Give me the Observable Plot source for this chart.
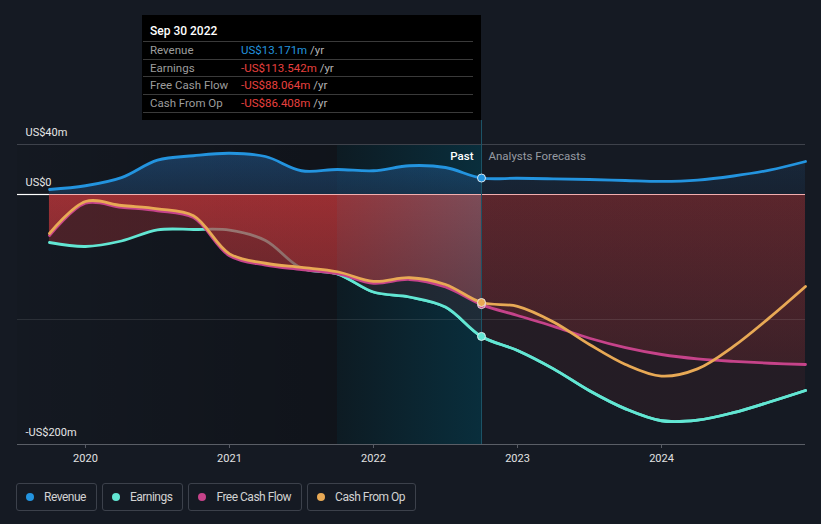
<!DOCTYPE html>
<html><head><meta charset="utf-8">
<script src="https://cdn.jsdelivr.net/npm/d3@7"></script>
<script src="https://cdn.jsdelivr.net/npm/@observablehq/plot@0.6"></script>
<style>
html,body{margin:0;padding:0;background:#151a23;}
body{width:821px;height:524px;position:relative;overflow:hidden;font-family:Roboto,"Open Sans",sans-serif;}
#chart{position:absolute;left:0;top:0;}
#tip{position:absolute;left:142px;top:15px;width:339px;height:105px;background:#000;}
#tip .hd{position:absolute;left:8px;top:9px;font-size:12px;line-height:14px;color:#fff;font-weight:500;}
#tip .row{position:absolute;left:1px;width:330px;height:17px;border-top:1px solid #3a3a3a;font-size:11.5px;line-height:17px;}
#tip .row.last{border-bottom:1px solid #3a3a3a;}
#tip .lab{position:absolute;left:7px;color:#9d9d9d;}
#tip .val{position:absolute;left:98px;white-space:nowrap;}
#tip .yr{color:#b4b4b4;}
#legend{position:absolute;left:16px;top:483px;display:flex;}
#legend .item{height:26px;border:1px solid #3c414b;border-radius:3px;display:flex;align-items:center;font-size:12px;letter-spacing:-0.5px;color:#d2d2d2;padding:0 10px 0 0;margin-right:5px;box-sizing:content-box;}
#legend .dot{width:8px;height:8px;border-radius:50%;margin:0 10px 0 9px;}
</style></head>
<body>
<div id="chart"></div>
<div id="tip"></div>
<div id="legend"></div>
<script>
// ---------- data ----------
const quarters = [2019.75,2020,2020.25,2020.5,2020.75,2021,2021.25,2021.5,2021.75,2022,2022.25,2022.5,2022.75,2023,2023.25,2023.5,2023.75,2024,2024.25,2024.5,2024.75,2025];
const revenue = [4,7,13.5,27.5,31,33,30.4,19,20,19,23,21.6,13.171,13.0,12.5,12.0,11.2,10.5,11.5,14.8,19.5,26.4];
const earnings = [-38.4,-41.6,-37.2,-28.3,-28,-28.5,-36.8,-59,-63.5,-78,-82,-90,-113.542,-124.8,-139.5,-157,-171.5,-181,-180.5,-174.5,-166,-156.8];
const freeCashFlow = [-32.8,-7,-10.2,-13,-18.5,-49,-56.5,-60,-63.3,-71,-68,-74,-88.064,-96.8,-105.5,-115,-122.5,-128,-131.5,-133.5,-135,-136];
const cashFromOp = [-31.2,-5.6,-8.8,-11.5,-17,-47.5,-55,-58.3,-61.8,-69.5,-66.6,-72,-86.408,-89.5,-102,-120,-136,-145.3,-139.5,-121.5,-98.5,-73.6];
const seriesNames = ["Revenue","Earnings","Free Cash Flow","Cash From Op"];
const seriesColors = ["#2394df","#62e6d3","#c6438a","#e8a955"];
const xTicks = [2020,2021,2022,2023,2024];
const yTickValues = [40,0,-200];
const yTickLabels = ["US$40m","US$0","-US$200m"];
const pastStart = 2021.75;
const lastActual = 2022.75;
const tipDate = "Sep 30 2022";
const tipValues = ["US$13.171m","-US$113.542m","-US$88.064m","-US$86.408m"];
const pastLabel = "Past";
const forecastLabel = "Analysts Forecasts";

// ---------- layout ----------
const W = 821, H = 475;
const mL = 17, mR = 16, mT = 120, mB = 31;
const xDomain = [2019.528, 2025.0];
const yDomain = [-200, 59.2];
const xs = v => mL + (v - xDomain[0]) / (xDomain[1] - xDomain[0]) * (W - mL - mR);
const ys = v => mT + (yDomain[1] - v) / (yDomain[1] - yDomain[0]) * (H - mT - mB);

const rows = quarters.map((q,i) => ({q, rev: revenue[i], earn: earnings[i], fcf: freeCashFlow[i], cfo: cashFromOp[i]}));
const curve = "catmull-rom";
const last = rows.find(r => r.q === lastActual);

const plot = Plot.plot({
  width: W, height: H, marginLeft: mL, marginRight: mR, marginTop: mT, marginBottom: mB,
  style: {background: "transparent", color: "#e0e0e0", fontFamily: "Roboto, sans-serif", fontSize: "11px", overflow: "visible"},
  x: {domain: xDomain, axis: null},
  y: {domain: yDomain, axis: null},
  marks: [
    Plot.rect([0], {x1: xDomain[0], x2: pastStart, y1: -200, y2: 40, fill: "url(#pastShade)"}),
    Plot.rect([0], {x1: pastStart, x2: lastActual, y1: -200, y2: 40, fill: "url(#bandGrad)"}),
    Plot.areaY(rows, {x: "q", y: "rev", curve, fill: "url(#blueH)"}),
    Plot.areaY(rows, {x: "q", y: "rev", curve, fill: "url(#blueV)"}),
    Plot.areaY(rows, {x: "q", y: "earn", curve, fill: "url(#redEarnH)"}),
    Plot.line(rows, {x: "q", y: "earn", curve, stroke: seriesColors[1], strokeWidth: 2.8}),
    Plot.areaY(rows, {x: "q", y: "fcf", curve, fill: "url(#redH)"}),
    Plot.areaY(rows, {x: "q", y: "earn", curve, fill: "url(#bandEarn)", ariaDescription: "clipband"}),
    Plot.areaY(rows, {x: "q", y: "fcf", curve, fill: "url(#bandRed)", ariaDescription: "clipband"}),
    Plot.areaY(rows, {x: "q", y: "fcf", curve, fill: "url(#vdark)"}),
    Plot.ruleY([40], {x1: xDomain[0], x2: xDomain[1], stroke: "#3e424b", strokeWidth: 1}),
    Plot.ruleY([-100], {x1: xDomain[0], x2: xDomain[1], stroke: "#ffffff", strokeOpacity: 0.1, strokeWidth: 1}),
    Plot.ruleY([0], {x1: xDomain[0], x2: quarters[0], stroke: "#ffffff", strokeWidth: 1.2}),
    Plot.ruleY([0], {x1: quarters[0], x2: xDomain[1], stroke: "#f2aeae", strokeWidth: 1.2}),
    Plot.ruleY([-200], {x1: xDomain[0], x2: xDomain[1], stroke: "#5a5e66", strokeWidth: 1}),
    Plot.ruleX(xTicks, {x: d => d, y1: -200, y2: -203.2, stroke: "#5a5e66"}),
    Plot.text(xTicks, {x: d => d, y: -200, dy: 14, text: d => String(d), fill: "#e2e2e2", fontSize: 11}),
    Plot.ruleX([lastActual], {y1: -200, y2: yDomain[1], stroke: "#1d5468", strokeWidth: 1}),
    Plot.line(rows, {x: "q", y: "rev", curve, stroke: seriesColors[0], strokeWidth: 2.8}),
    Plot.line(rows, {x: "q", y: "earn", curve, stroke: seriesColors[1], strokeWidth: 2.8, ariaDescription: "clipright"}),
    Plot.line(rows, {x: "q", y: "fcf", curve, stroke: seriesColors[2], strokeWidth: 2.8}),
    Plot.line(rows, {x: "q", y: "cfo", curve, stroke: seriesColors[3], strokeWidth: 2.8}),
    Plot.dot([last], {x: "q", y: "rev", r: 4, fill: seriesColors[0], stroke: "#d8e6f0", strokeWidth: 1}),
    Plot.dot([last], {x: "q", y: "earn", r: 4, fill: seriesColors[1], stroke: "#d8f0ec", strokeWidth: 1}),
    Plot.dot([last], {x: "q", y: "fcf", r: 4, fill: seriesColors[2], stroke: "#e8d8e0", strokeWidth: 1}),
    Plot.dot([last], {x: "q", y: "cfo", r: 4, fill: seriesColors[3], stroke: "#eee4d8", strokeWidth: 1}),
    Plot.text(yTickValues, {x: xDomain[0], y: d => d, dx: 8, dy: -12, text: (d,i) => yTickLabels[i], textAnchor: "start", fill: "#e6e6e6", fontSize: 11}),
    Plot.text([pastLabel], {x: lastActual, y: 40, dx: -8, dy: 12, text: d => d, textAnchor: "end", fill: "#ffffff", fontSize: 11.5, fontWeight: 500}),
    Plot.text([forecastLabel], {x: lastActual, y: 40, dx: 7, dy: 12, text: d => d, textAnchor: "start", fill: "#979ba2", fontSize: 11.5})
  ]
});
document.getElementById("chart").appendChild(plot);

// ---------- gradients and clips ----------
const svg = d3.select(plot);
const defs = svg.insert("defs", ":first-child");
function lin(id, dir, a, b, stops) {
  const g = defs.append("linearGradient").attr("id", id).attr("gradientUnits", "userSpaceOnUse");
  if (dir === "h") g.attr("x1", a).attr("x2", b).attr("y1", 0).attr("y2", 0);
  else g.attr("x1", 0).attr("x2", 0).attr("y1", a).attr("y2", b);
  for (const [o, c, op] of stops) g.append("stop").attr("offset", o).attr("stop-color", c).attr("stop-opacity", op);
}
const cut = xs(lastActual) / W;
lin("blueH", "h", 0, W, [[0, "rgb(40,110,180)", 0.42], [cut, "rgb(40,110,180)", 0.42], [cut, "rgb(40,110,180)", 0.17], [1, "rgb(40,110,180)", 0.17]]);
lin("blueV", "v", ys(35), ys(0), [[0, "#151a23", 0], [1, "#151a23", 0.4]]);
lin("redEarnH", "h", 0, W, [[0, "rgb(209,57,60)", 0.285], [cut, "rgb(209,57,60)", 0.285], [cut, "rgb(209,57,60)", 0.08], [1, "rgb(209,57,60)", 0.08]]);
lin("redH", "h", 0, W, [[0, "rgb(209,57,60)", 0.6], [cut, "rgb(209,57,60)", 0.6], [cut, "rgb(220,60,62)", 0.3], [1, "rgb(220,60,62)", 0.3]]);
lin("vdark", "v", ys(0), ys(-140), [[0, "#151a23", 0], [1, "#151a23", 0.45]]);
lin("bandGrad", "h", xs(pastStart), xs(lastActual), [[0, "rgb(13,27,35)", 1], [1, "rgb(9,46,60)", 1]]);
lin("pastShade", "h", xs(xDomain[0]), xs(pastStart), [[0, "#000", 0.05], [1, "#000", 0.25]]);
lin("bandRed", "h", xs(pastStart), xs(lastActual), [[0, "rgb(146,54,60)", 1], [1, "rgb(124,76,88)", 1]]);
lin("bandEarn", "h", xs(pastStart), xs(lastActual), [[0, "rgb(36,34,42)", 1], [1, "rgb(30,44,56)", 1]]);
defs.append("clipPath").attr("id", "cBand").attr("clipPathUnits", "userSpaceOnUse")
  .append("rect").attr("x", xs(pastStart)).attr("y", 0).attr("width", xs(lastActual) - xs(pastStart)).attr("height", H);
defs.append("clipPath").attr("id", "cRight").attr("clipPathUnits", "userSpaceOnUse")
  .append("rect").attr("x", 318).attr("y", 0).attr("width", W).attr("height", H);
plot.querySelectorAll('[aria-description="clipband"]').forEach(g => g.setAttribute("clip-path", "url(#cBand)"));
plot.querySelectorAll('[aria-description="clipright"]').forEach(g => g.setAttribute("clip-path", "url(#cRight)"));

// ---------- tooltip ----------
const tip = document.getElementById("tip");
const hd = document.createElement("div"); hd.className = "hd"; hd.textContent = tipDate; tip.appendChild(hd);
seriesNames.forEach((n, i) => {
  const r = document.createElement("div");
  r.className = "row" + (i === seriesNames.length - 1 ? " last" : "");
  r.style.top = (26 + 17.5 * i) + "px";
  const neg = tipValues[i].startsWith("-");
  r.innerHTML = `<span class="lab">${n}</span><span class="val"><span style="color:${neg ? "#e8403f" : "#2394df"}">${tipValues[i]}</span> <span class="yr">/yr</span></span>`;
  tip.appendChild(r);
});

// ---------- legend ----------
const lg = document.getElementById("legend");
seriesNames.forEach((n, i) => {
  const it = document.createElement("div"); it.className = "item";
  it.innerHTML = `<span class="dot" style="background:${seriesColors[i]}"></span><span>${n}</span>`;
  lg.appendChild(it);
});
</script>
</body></html>
